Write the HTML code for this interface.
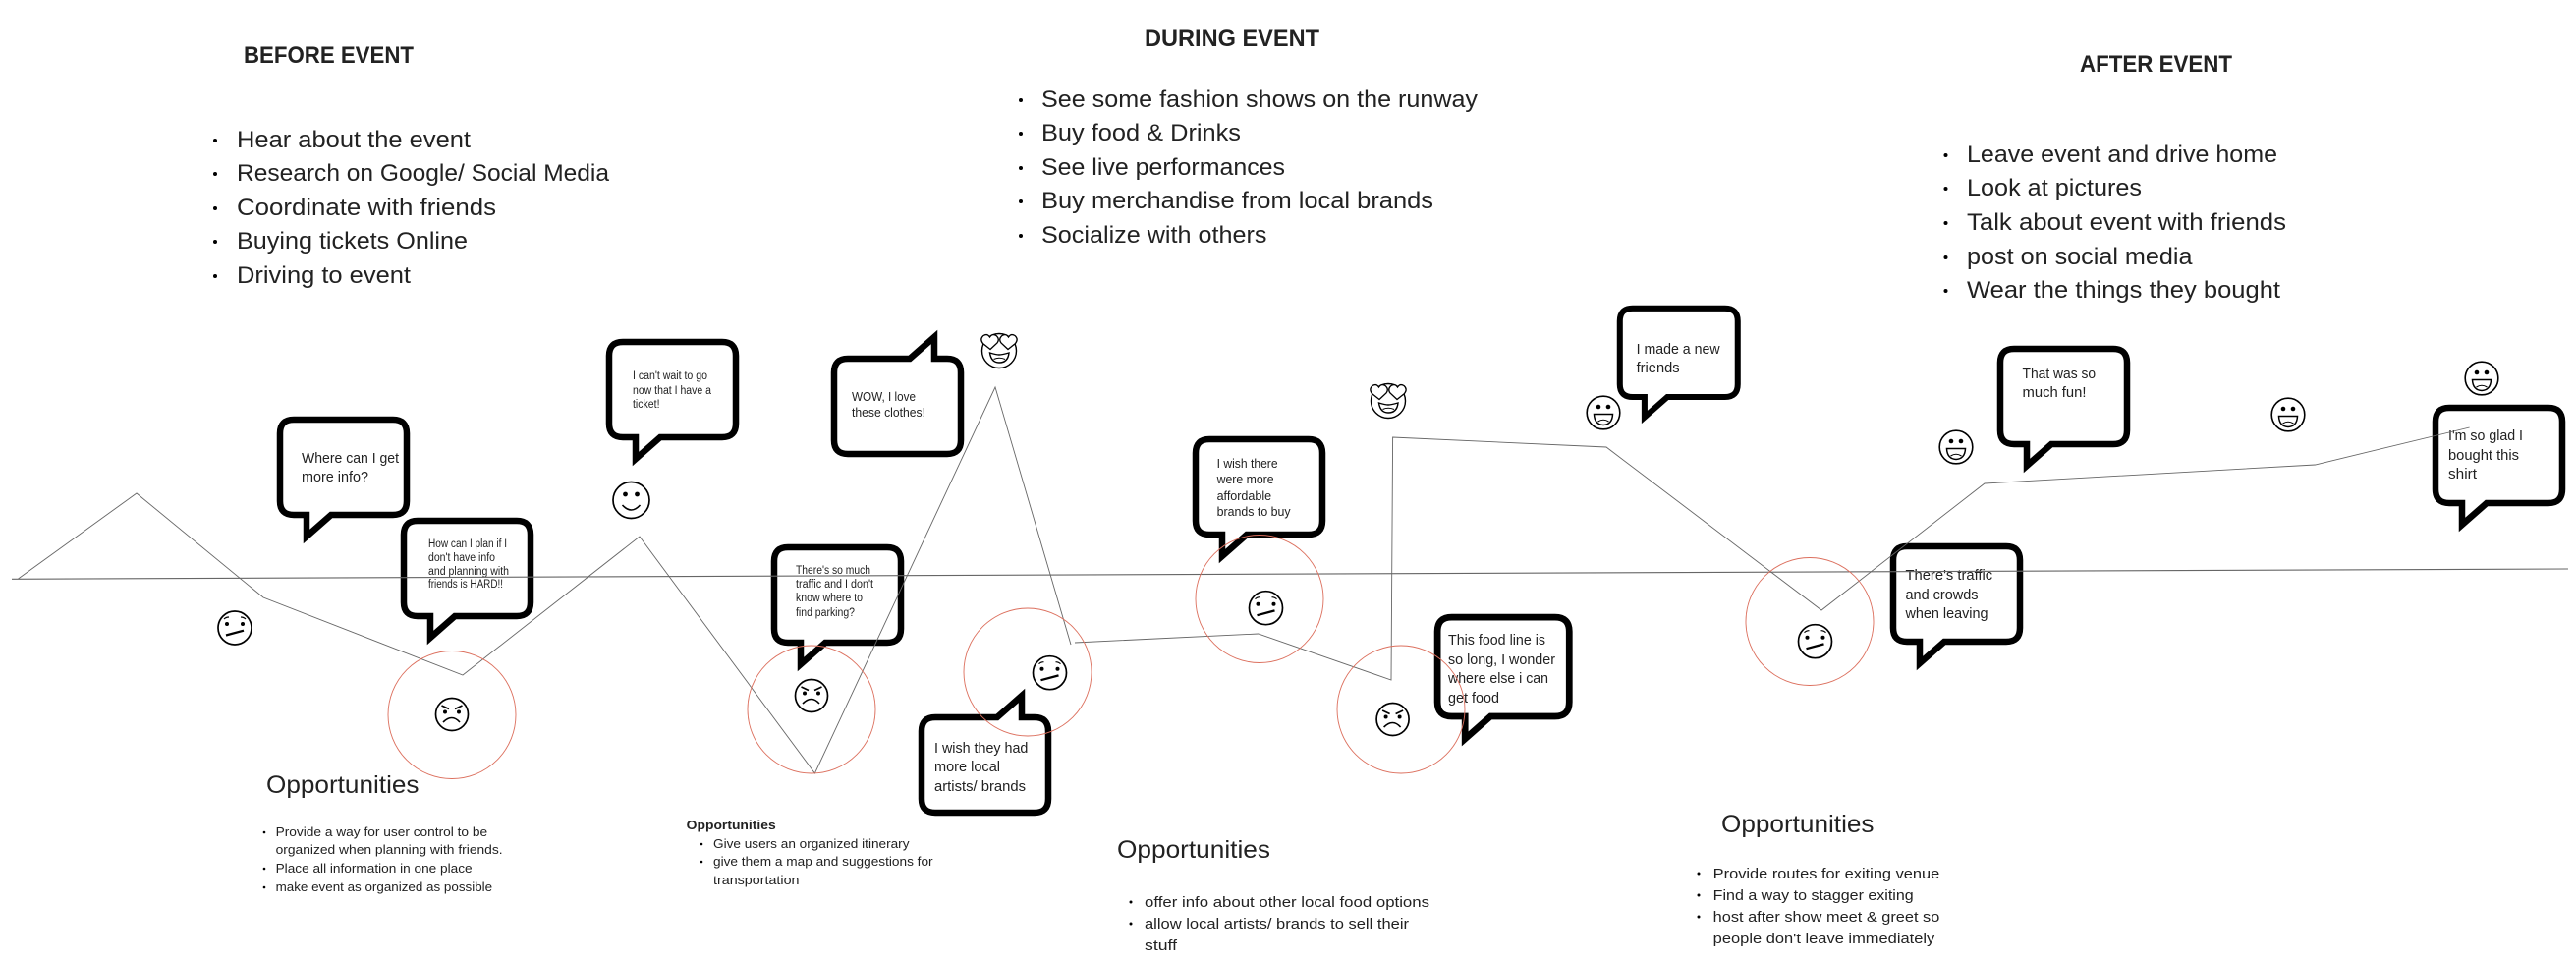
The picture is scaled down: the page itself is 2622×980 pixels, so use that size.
<!DOCTYPE html>
<html lang="en">
<head>
<meta charset="utf-8">
<title>Event journey map</title>
<style>
html,body{margin:0;padding:0;background:#fff;width:2622px;height:980px;overflow:hidden}
svg{display:block}
text{font-family:"Liberation Sans",Arial,sans-serif;fill:#222;white-space:pre}
.h{font-size:24px;font-weight:bold}
.l{font-size:24px}
.o{font-size:25px}
.m{font-size:15px}
.s{font-size:13px}
.b14{font-size:14.5px}
.b12{font-size:12.5px}
.b11{font-size:11.5px}
.bb{font-size:13px;font-weight:bold}
.d{fill:#000;stroke:none}
</style>
</head>
<body>
<svg xmlns="http://www.w3.org/2000/svg" width="2622" height="980" viewBox="0 0 2622 980">
<defs>
<path id="bub" d="M17 3H118Q132 3 132 17V86Q132 100 118 100H55L30 122V100H17Q3 100 3 86V17Q3 3 17 3Z" fill="none" stroke="#000" stroke-width="6.5" stroke-miterlimit="12" stroke-linejoin="miter"/>
<g id="neu" fill="none" stroke="#000"><circle r="17" stroke-width="1.7"/><circle class="d" cx="-8" cy="-4" r="2"/><circle class="d" cx="8" cy="-4" r="2"/><path d="M-11-9Q-9-11-6-11M11-9Q9-11 6-11" stroke-width="1.2"/><path d="M-9 7.5L9 2.7" stroke-width="2.3"/></g>
<g id="ang" fill="none" stroke="#000"><circle r="16.5" stroke-width="1.7"/><circle class="d" cx="-7" cy="-2.5" r="2"/><circle class="d" cx="7" cy="-2.5" r="2"/><path d="M-10.5-9L-3-5.5M10.5-9L3-5.5" stroke-width="1.7"/><path d="M-9 8Q0-1 8 8" stroke-width="1.6"/></g>
<g id="smi" fill="none" stroke="#000"><circle r="18.5" stroke-width="1.7"/><circle class="d" cx="-6" cy="-6" r="2.4"/><circle class="d" cx="6" cy="-6" r="2.4"/><path d="M-9 5Q0 15 9 5" stroke-width="1.6"/></g>
<g id="gri" fill="none" stroke="#000"><circle r="16.8" stroke-width="1.6"/><circle class="d" cx="-5" cy="-6" r="2.3"/><circle class="d" cx="5" cy="-6" r="2.3"/><path d="M-9.5 1.5H9.5Q9 12 0 12.5Q-9 12-9.5 1.5Z" stroke-width="1.5"/><path d="M-5.5 9Q0 5.5 5.5 9" stroke-width="1.1"/></g>
<g id="hrt" fill="none" stroke="#000"><circle r="17.5" stroke-width="1.4"/><path d="M-9.5 2Q-3 4 0 4Q3 4 10 2Q9 12 0 12Q-8 12-9.5 2Z" stroke-width="1.4"/><path d="M-5.5 8.5Q0 6 6 8.5" stroke-width="1.1"/><path d="M-9-1.5L-16.5-7.5Q-20-12-16-15.5Q-12-18-9.5-14Q-7-18-3-15.5Q1-12-2-8Z" fill="#fff" stroke-width="1.3"/><path d="M9-1.5L2-8Q-1-12 3-15.5Q7-18 9.5-14Q12-18 16-15.5Q20-12 16.5-7.5Z" fill="#fff" stroke-width="1.3"/></g>
</defs>
<rect width="2622" height="980" fill="#fff"/>

<!-- headers -->
<text class="h" x="248" y="64" textLength="173" lengthAdjust="spacingAndGlyphs">BEFORE EVENT</text>
<text class="h" x="1165" y="47" textLength="178" lengthAdjust="spacingAndGlyphs">DURING EVENT</text>
<text class="h" x="2117" y="73" textLength="155" lengthAdjust="spacingAndGlyphs">AFTER EVENT</text>

<!-- before list -->
<text class="l" x="241" y="150" textLength="238" lengthAdjust="spacingAndGlyphs">Hear about the event</text>
<text class="l" x="241" y="184" textLength="379" lengthAdjust="spacingAndGlyphs">Research on Google/ Social Media</text>
<text class="l" x="241" y="219" textLength="264" lengthAdjust="spacingAndGlyphs">Coordinate with friends</text>
<text class="l" x="241" y="253" textLength="235" lengthAdjust="spacingAndGlyphs">Buying tickets Online</text>
<text class="l" x="241" y="288" textLength="177" lengthAdjust="spacingAndGlyphs">Driving to event</text>
<circle cx="219" cy="143" r="2"/><circle cx="219" cy="177" r="2"/><circle cx="219" cy="212" r="2"/><circle cx="219" cy="246" r="2"/><circle cx="219" cy="281" r="2"/>
<!-- during list -->
<text class="l" x="1060" y="109" textLength="444" lengthAdjust="spacingAndGlyphs">See some fashion shows on the runway</text>
<text class="l" x="1060" y="143" textLength="203" lengthAdjust="spacingAndGlyphs">Buy food &amp; Drinks</text>
<text class="l" x="1060" y="178" textLength="248" lengthAdjust="spacingAndGlyphs">See live performances</text>
<text class="l" x="1060" y="212" textLength="399" lengthAdjust="spacingAndGlyphs">Buy merchandise from local brands</text>
<text class="l" x="1060" y="247" textLength="229.5" lengthAdjust="spacingAndGlyphs">Socialize with others</text>
<circle cx="1039" cy="102" r="2"/><circle cx="1039" cy="136" r="2"/><circle cx="1039" cy="171" r="2"/><circle cx="1039" cy="205" r="2"/><circle cx="1039" cy="240" r="2"/>
<!-- after list -->
<text class="l" x="2002" y="165" textLength="316" lengthAdjust="spacingAndGlyphs">Leave event and drive home</text>
<text class="l" x="2002" y="199" textLength="178" lengthAdjust="spacingAndGlyphs">Look at pictures</text>
<text class="l" x="2002" y="234" textLength="325" lengthAdjust="spacingAndGlyphs">Talk about event with friends</text>
<text class="l" x="2002" y="269" textLength="229.5" lengthAdjust="spacingAndGlyphs">post on social media</text>
<text class="l" x="2002" y="303" textLength="319" lengthAdjust="spacingAndGlyphs">Wear the things they bought</text>
<circle cx="1980.5" cy="158" r="2"/><circle cx="1980.5" cy="192" r="2"/><circle cx="1980.5" cy="227" r="2"/><circle cx="1980.5" cy="262" r="2"/><circle cx="1980.5" cy="296" r="2"/>

<!-- bubbles -->
<use href="#bub" transform="translate(282,424)"/>
<use href="#bub" transform="translate(408,527)"/>
<use href="#bub" transform="translate(617,345)"/>
<use href="#bub" transform="translate(785,554)"/>
<use href="#bub" transform="translate(1214,444)"/>
<use href="#bub" transform="translate(1460,625) scale(1.04)"/>
<use href="#bub" transform="translate(1646,311) scale(.93)"/>
<use href="#bub" transform="translate(2033,352)"/>
<use href="#bub" transform="translate(2476,412)"/>
<use href="#bub" transform="translate(1924,553)"/>
<use href="#bub" transform="translate(981,465) rotate(180)"/>
<use href="#bub" transform="translate(1070,830) rotate(180)"/>

<!-- bubble text -->
<text class="b14" x="307" y="471" textLength="99" lengthAdjust="spacingAndGlyphs">Where can I get</text>
<text class="b14" x="307" y="490" textLength="68" lengthAdjust="spacingAndGlyphs">more info?</text>

<text class="b11" x="436" y="557" textLength="80" lengthAdjust="spacingAndGlyphs">How can I plan if I</text>
<text class="b11" x="436" y="571" textLength="68" lengthAdjust="spacingAndGlyphs">don't have info</text>
<text class="b11" x="436" y="585" textLength="82" lengthAdjust="spacingAndGlyphs">and planning with</text>
<text class="b11" x="436" y="598" textLength="76" lengthAdjust="spacingAndGlyphs">friends is HARD!!</text>

<text class="b11" x="644" y="386" textLength="76" lengthAdjust="spacingAndGlyphs">I can't wait to go</text>
<text class="b11" x="644" y="401" textLength="80" lengthAdjust="spacingAndGlyphs">now that I have a</text>
<text class="b11" x="644" y="415" textLength="27.5" lengthAdjust="spacingAndGlyphs">ticket!</text>

<text class="b11" x="810" y="584" textLength="76" lengthAdjust="spacingAndGlyphs">There's so much</text>
<text class="b11" x="810" y="598" textLength="79" lengthAdjust="spacingAndGlyphs">traffic and I don't</text>
<text class="b11" x="810" y="612" textLength="68" lengthAdjust="spacingAndGlyphs">know where to</text>
<text class="b11" x="810" y="627" textLength="60" lengthAdjust="spacingAndGlyphs">find parking?</text>

<text class="b12" x="867" y="408" textLength="65" lengthAdjust="spacingAndGlyphs">WOW, I love</text>
<text class="b12" x="867" y="424" textLength="75" lengthAdjust="spacingAndGlyphs">these clothes!</text>

<text class="b12" x="1238.6" y="476" textLength="62" lengthAdjust="spacingAndGlyphs">I wish there</text>
<text class="b12" x="1238.6" y="492" textLength="58" lengthAdjust="spacingAndGlyphs">were more</text>
<text class="b12" x="1238.6" y="509" textLength="55.5" lengthAdjust="spacingAndGlyphs">affordable</text>
<text class="b12" x="1238.6" y="525" textLength="75" lengthAdjust="spacingAndGlyphs">brands to buy</text>

<text class="b14" x="951" y="766" textLength="95.4" lengthAdjust="spacingAndGlyphs">I wish they had</text>
<text class="b14" x="951" y="785" textLength="67" lengthAdjust="spacingAndGlyphs">more local</text>
<text class="b14" x="951" y="805" textLength="93" lengthAdjust="spacingAndGlyphs">artists/ brands</text>

<text class="b14" x="1474" y="656" textLength="99" lengthAdjust="spacingAndGlyphs">This food line is</text>
<text class="b14" x="1474" y="676" textLength="109" lengthAdjust="spacingAndGlyphs">so long, I wonder</text>
<text class="b14" x="1474" y="695" textLength="102" lengthAdjust="spacingAndGlyphs">where else i can</text>
<text class="b14" x="1474" y="715" textLength="52" lengthAdjust="spacingAndGlyphs">get food</text>

<text class="b14" x="1665.6" y="360" textLength="85" lengthAdjust="spacingAndGlyphs">I made a new</text>
<text class="b14" x="1665.6" y="379" textLength="44" lengthAdjust="spacingAndGlyphs">friends</text>

<text class="b14" x="2058.5" y="385" textLength="74.6" lengthAdjust="spacingAndGlyphs">That was so</text>
<text class="b14" x="2058.5" y="404" textLength="65" lengthAdjust="spacingAndGlyphs">much fun!</text>

<text class="b14" x="2492" y="448" textLength="76" lengthAdjust="spacingAndGlyphs">I'm so glad I</text>
<text class="b14" x="2492" y="468" textLength="72" lengthAdjust="spacingAndGlyphs">bought this</text>
<text class="b14" x="2492" y="487" textLength="29" lengthAdjust="spacingAndGlyphs">shirt</text>

<text class="b14" x="1939.5" y="590" textLength="88.7" lengthAdjust="spacingAndGlyphs">There's traffic</text>
<text class="b14" x="1939.5" y="610" textLength="74" lengthAdjust="spacingAndGlyphs">and crowds</text>
<text class="b14" x="1939.5" y="629" textLength="84" lengthAdjust="spacingAndGlyphs">when leaving</text>

<!-- axis and journey line -->
<line x1="12" y1="589.3" x2="2614" y2="579" stroke="#666" stroke-width="1.1"/>
<polyline fill="none" stroke="#666" stroke-width="0.9" points="18.5,589 139,502 268,608 471,687 651,546 829.4,787 1013,394 1090,656"/>
<polyline fill="none" stroke="#666" stroke-width="0.9" points="1094,654 1280.7,645 1416,692 1417.6,445 1635,455 1854,621 2020,492 2356.5,473 2513.6,435"/>

<!-- red circles -->
<g fill="none" stroke="#dc6f5d" stroke-width="0.9">
<circle cx="460" cy="727.5" r="65"/>
<circle cx="826" cy="722" r="65"/>
<circle cx="1046" cy="684" r="65"/>
<circle cx="1282" cy="609.5" r="65"/>
<circle cx="1426" cy="722" r="65"/>
<circle cx="1842" cy="632.5" r="65"/>
</g>

<!-- emoji faces -->
<use href="#neu" x="239" y="639"/>
<use href="#ang" x="460" y="727"/>
<use href="#smi" x="642.5" y="509"/>
<use href="#ang" x="826" y="708"/>
<use href="#hrt" x="1017" y="357"/>
<use href="#neu" x="1068.5" y="684.7"/>
<use href="#neu" x="1288.5" y="618.7"/>
<use href="#ang" x="1417.6" y="732"/>
<use href="#hrt" x="1413" y="408"/>
<use href="#gri" x="1632" y="420"/>
<use href="#gri" x="1991" y="455"/>
<use href="#gri" x="2329" y="422"/>
<use href="#gri" x="2526" y="385"/>
<use href="#neu" x="1847.5" y="652.7"/>

<!-- opportunities 1 -->
<text class="o" x="271" y="807" textLength="155.5" lengthAdjust="spacingAndGlyphs">Opportunities</text>
<text class="s" x="280.6" y="851" textLength="215.5" lengthAdjust="spacingAndGlyphs">Provide a way for user control to be</text>
<text class="s" x="280.6" y="869" textLength="231" lengthAdjust="spacingAndGlyphs">organized when planning with friends.</text>
<text class="s" x="280.6" y="888" textLength="200" lengthAdjust="spacingAndGlyphs">Place all information in one place</text>
<text class="s" x="280.6" y="907" textLength="220.5" lengthAdjust="spacingAndGlyphs">make event as organized as possible</text>
<circle cx="269" cy="847" r="1.3"/><circle cx="269" cy="884" r="1.3"/><circle cx="269" cy="903" r="1.3"/>

<!-- opportunities 2 -->
<text class="bb" x="698.7" y="844" textLength="91" lengthAdjust="spacingAndGlyphs">Opportunities</text>
<text class="s" x="726" y="863" textLength="199.5" lengthAdjust="spacingAndGlyphs">Give users an organized itinerary</text>
<text class="s" x="726" y="881" textLength="223.6" lengthAdjust="spacingAndGlyphs">give them a map and suggestions for</text>
<text class="s" x="726" y="900" textLength="87.5" lengthAdjust="spacingAndGlyphs">transportation</text>
<circle cx="714" cy="859" r="1.3"/><circle cx="714" cy="877" r="1.3"/>

<!-- opportunities 3 -->
<text class="o" x="1137" y="873" textLength="156" lengthAdjust="spacingAndGlyphs">Opportunities</text>
<text class="m" x="1165" y="923" textLength="290" lengthAdjust="spacingAndGlyphs">offer info about other local food options</text>
<text class="m" x="1165" y="945" textLength="269" lengthAdjust="spacingAndGlyphs">allow local artists/ brands to sell their</text>
<text class="m" x="1165" y="967" textLength="33" lengthAdjust="spacingAndGlyphs">stuff</text>
<circle cx="1151" cy="918" r="1.5"/><circle cx="1151" cy="940" r="1.5"/>

<!-- opportunities 4 -->
<text class="o" x="1752" y="847" textLength="155.5" lengthAdjust="spacingAndGlyphs">Opportunities</text>
<text class="m" x="1743.7" y="894" textLength="230.6" lengthAdjust="spacingAndGlyphs">Provide routes for exiting venue</text>
<text class="m" x="1743.7" y="916" textLength="204" lengthAdjust="spacingAndGlyphs">Find a way to stagger exiting</text>
<text class="m" x="1743.7" y="938" textLength="230.6" lengthAdjust="spacingAndGlyphs">host after show meet &amp; greet so</text>
<text class="m" x="1743.7" y="960" textLength="225.6" lengthAdjust="spacingAndGlyphs">people don't leave immediately</text>
<circle cx="1729" cy="889" r="1.5"/><circle cx="1729" cy="911" r="1.5"/><circle cx="1729" cy="933" r="1.5"/>
</svg>
</body>
</html>
